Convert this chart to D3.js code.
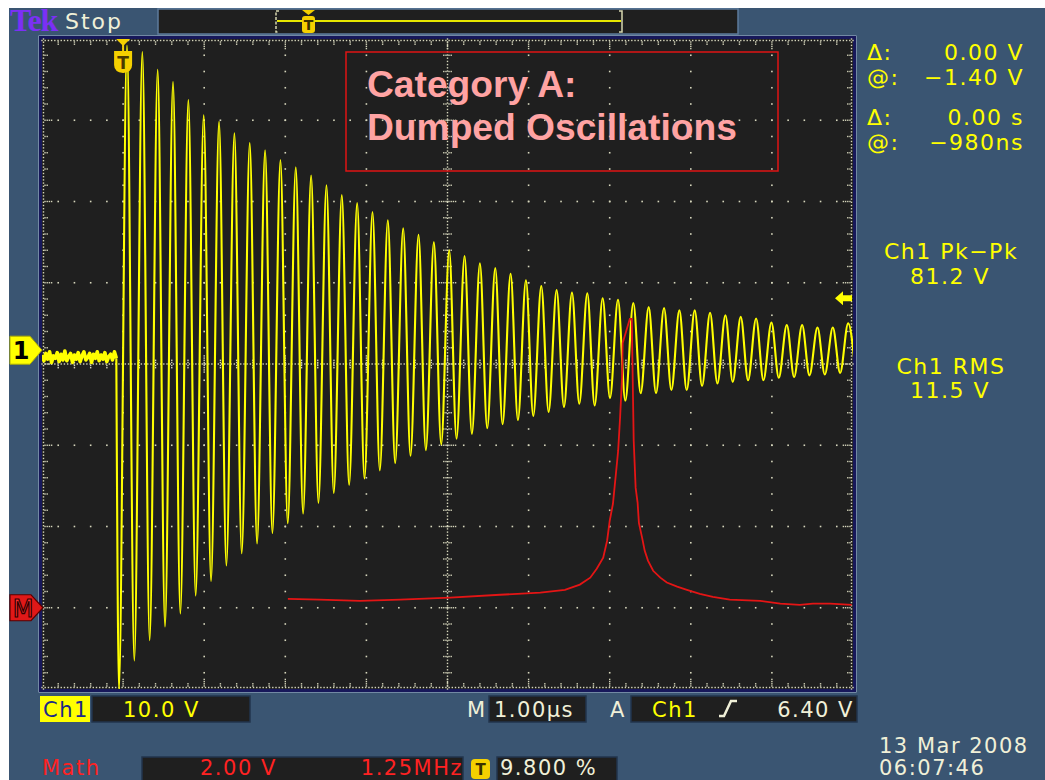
<!DOCTYPE html>
<html>
<head>
<meta charset="utf-8">
<script src="https://cdn.jsdelivr.net/npm/d3@7"></script>
<style>
  html, body { margin: 0; padding: 0; background: #ffffff; }
  svg { display: block; }
  text { font-family: "DejaVu Sans", sans-serif; }
</style>
</head>
<body>
<svg id="scope" width="1045" height="780"></svg>
<script>
// ---- Channel 1: damped ringing, one peak and one trough per cycle (volts) ----
const ch1PeakVolts = [37.5, 36.7, 34.5, 33.0, 30.8, 28.9, 28.1, 26.7, 25.5, 24.6,
  23.4, 22.5, 21.5, 20.3, 19.1, 18.1, 17.0, 16.0, 15.0, 14.2,
  13.3, 12.3, 11.6, 10.7, 10.1, 9.4, 8.6, 7.9, 7.4, 7.1,
  7.0, 6.4, 6.2, 5.8, 5.3, 5.2, 4.9, 4.9, 4.6, 4.3,
  4.1, 3.9, 3.4, 3.1, 3.1, 2.8, 2.8, 3.3];
const ch1TroughVolts = [-41.8, -38.2, -35.7, -34.0, -32.4, -30.2, -28.4, -26.5, -25.0, -23.8,
  -22.5, -21.3, -20.1, -18.8, -17.6, -16.6, -15.8, -14.8, -13.9, -13.0,
  -12.3, -11.6, -10.9, -10.3, -9.6, -9.1, -8.6, -8.1, -7.6, -7.0,
  -6.6, -6.8, -5.9, -6.2, -5.3, -5.3, -4.9, -4.9, -4.4, -4.1,
  -3.9, -3.7, -3.7, -3.4, -3.3, -3.1, -3.0, -2.8, -2.7];
// ringing timing (µs)
const ringPeriodUs = 0.1892;
const firstTroughUs = -0.051;
const firstPeakUs = 0.048;
// baseline before the trigger (volts), sampled every preStepUs from preStartUs
const ch1PreTriggerVolts = [-0.6, -1.3, -0.4, -1.1, -0.2, -1.5, -0.7, -1.0, -0.3, -1.4,
  -0.5, -1.2, -0.1, -1.3, -0.8, -0.4, -1.5, -0.6, -1.1, -0.3,
  -1.4, -0.7, -0.2, -1.2, -0.9, -0.4, -1.5, -0.5, -1.0, -0.2,
  -1.3, -0.6, -1.1, -0.3, -1.4, -0.8, -0.5, -1.2, -0.2, -1.0];
const preStartUs = -1.0;
const preStepUs = 0.0235;

// ---- Math trace: spectrum (MHz, volts) ----
const mathFreqMHz = [3.79, 4.28, 4.90, 5.52, 6.29, 7.06, 7.68, 8.06, 8.29, 8.45,
  8.55, 8.65, 8.71, 8.75, 8.80, 8.85, 8.88, 8.91, 8.94, 8.95,
  9.02, 9.06, 9.09, 9.12, 9.15, 9.18, 9.20, 9.25, 9.29, 9.34,
  9.42, 9.53, 9.63, 9.79, 9.94, 10.14, 10.34, 10.60, 11.07, 11.38,
  11.68, 11.88, 12.15, 12.48];
const mathVolts = [0.22, 0.20, 0.17, 0.20, 0.25, 0.32, 0.37, 0.44, 0.57, 0.74,
  0.96, 1.23, 1.65, 2.14, 2.56, 3.37, 3.86, 4.68, 5.66, 6.52,
  6.89, 7.11, 7.11, 4.11, 2.95, 2.59, 2.09, 1.72, 1.40, 1.16,
  0.91, 0.74, 0.62, 0.52, 0.44, 0.34, 0.27, 0.20, 0.17, 0.10,
  0.07, 0.10, 0.10, 0.07];

// ---- Settings / readouts ----
const ch1VoltsPerDiv = 10, ch1OffsetDiv = 0.17;
const mathVoltsPerDiv = 2, mathOffsetDiv = -3;
const timePerDivUs = 1, timeStartUs = -1;
const mathMHzPerDiv = 1.25;
const triggerLevelV = 6.40;
const cursorReadouts = [["Δ:", "0.00 V"], ["@:", "\u22121.40 V"], ["Δ:", "0.00 s"], ["@:", "\u2212980ns"]];
const measureReadouts = [["Ch1 Pk\u2212Pk", "81.2 V"], ["Ch1 RMS", "11.5 V"]];

const svg = d3.select("#scope");
const W = 1045, H = 780;
const plot = { left: 42, right: 853, top: 39, bottom: 689 };

const xDiv = d3.scaleLinear().domain([0, 10]).range([plot.left, plot.right]);
const yDiv = d3.scaleLinear().domain([-4, 4]).range([plot.bottom, plot.top]);
const xTime = d3.scaleLinear().domain([timeStartUs, timeStartUs + 10 * timePerDivUs]).range([plot.left, plot.right]);
const xFreq = d3.scaleLinear().domain([0, 10 * mathMHzPerDiv]).range([plot.left, plot.right]);
const ch1Y = v => yDiv(ch1OffsetDiv + v / ch1VoltsPerDiv);
const mathY = v => yDiv(mathOffsetDiv + v / mathVoltsPerDiv);

const BLUE = "#3a5572", DARK = "#1f1f1f", CREAM = "#f0f0d8", YEL = "#ffff00", RED = "#ff2222", DOT = "#d6d6bc";

// page & panel background
svg.append("rect").attr("width", W).attr("height", H).attr("fill", "#ffffff");
svg.append("rect").attr("x", 9).attr("y", 8).attr("width", W - 9).attr("height", H - 8).attr("fill", BLUE);

// ---- header ----
svg.append("text").attr("x", 10).attr("y", 31).attr("fill", "#7b30f5")
  .style("font-family", "'Liberation Serif', serif").style("font-weight", "bold")
  .style("font-size", "32px").style("letter-spacing", "-1px").text("Tek");
svg.append("text").attr("x", 65).attr("y", 29).attr("fill", CREAM)
  .style("font-size", "22px").style("letter-spacing", "2px").text("Stop");

const hdr = svg.append("g");
hdr.append("rect").attr("x", 158).attr("y", 9).attr("width", 580).attr("height", 25)
  .attr("fill", DARK).attr("stroke", "#5d7b9c").attr("stroke-width", 1.5);
hdr.append("line").attr("x1", 277).attr("x2", 621).attr("y1", 21).attr("y2", 21)
  .attr("stroke", "#e8e800").attr("stroke-width", 2);
hdr.append("path").attr("d", "M279,11 h-3 v21 h3").attr("fill", "none").attr("stroke", "#d8d8b0").attr("stroke-width", 1.5).attr("stroke-dasharray", "3,1.5");
hdr.append("path").attr("d", "M619,11 h3 v21 h-3").attr("fill", "none").attr("stroke", "#d8d8b0").attr("stroke-width", 1.5);
hdr.append("path").attr("d", "M302,10 L315,10 L308.5,15 Z").attr("fill", "#f5d000");
hdr.append("rect").attr("x", 302).attr("y", 16).attr("width", 13).attr("height", 17).attr("rx", 3).attr("fill", "#f5d000");
hdr.append("text").attr("x", 308.5).attr("y", 30).attr("text-anchor", "middle").attr("fill", "#3a3000")
  .style("font-size", "14px").style("font-weight", "bold").text("T");

// ---- graticule frame ----
svg.append("rect").attr("x", plot.left - 3).attr("y", plot.top - 3)
  .attr("width", plot.right - plot.left + 6).attr("height", plot.bottom - plot.top + 6)
  .attr("fill", "none").attr("stroke", "#a9bdd6").attr("stroke-width", 1);
svg.append("rect").attr("x", plot.left - 1.5).attr("y", plot.top - 1.5)
  .attr("width", plot.right - plot.left + 3).attr("height", plot.bottom - plot.top + 3)
  .attr("fill", DARK).attr("stroke", "#17185a").attr("stroke-width", 3);

const grid = svg.append("g");
const dot = (x, y, s = 1.6) => grid.append("rect").attr("x", x - s / 2).attr("y", y - s / 2)
  .attr("width", s).attr("height", s).attr("fill", DOT);

// dotted major grid lines (every 1/5 division)
for (let k = -3; k <= 3; k++) {
  if (k === 0) continue;
  for (let m = 1; m < 50; m++) dot(xDiv(m * 0.2), yDiv(k));
}
for (let k = 1; k <= 9; k++) {
  if (k === 5) continue;
  for (let m = 1; m < 40; m++) dot(xDiv(k), yDiv(-4 + m * 0.2));
}
// centre cross-hair and edge rulers: fine dotted line with tick marks
function ruler(horizontal, pos, dir, both) {
  const len = horizontal ? plot.right - plot.left : plot.bottom - plot.top;
  const n = Math.floor(len / 3.2);
  for (let i = 0; i <= n; i++) {
    const t = i * len / n;
    if (horizontal) dot(plot.left + t, pos, 1.4); else dot(pos, plot.top + t, 1.4);
  }
  const count = horizontal ? 50 : 40;
  for (let m = 1; m < count; m++) {
    const major = m % 5 === 0;
    const L = major ? 9 : 4;
    const c = horizontal ? xDiv(m * 0.2) : yDiv(-4 + m * 0.2);
    for (let d = 1.5; d <= L; d += 2.2) {
      if (horizontal) {
        if (both || dir > 0) dot(c, pos + d, 1.4);
        if (both || dir < 0) dot(c, pos - d, 1.4);
      } else {
        if (both || dir > 0) dot(pos + d, c, 1.4);
        if (both || dir < 0) dot(pos - d, c, 1.4);
      }
    }
  }
}
ruler(true, yDiv(0), 0, true);
ruler(false, xDiv(5), 0, true);
ruler(true, plot.top + 1.5, 1, false);
ruler(true, plot.bottom - 1.5, -1, false);
ruler(false, plot.left + 1.5, 1, false);
ruler(false, plot.right - 1.5, -1, false);

// ---- traces ----
svg.append("clipPath").attr("id", "plotClip").append("rect")
  .attr("x", plot.left).attr("y", plot.top)
  .attr("width", plot.right - plot.left).attr("height", plot.bottom - plot.top);
const traces = svg.append("g").attr("clip-path", "url(#plotClip)");

const prePoints = ch1PreTriggerVolts.map((v, k) => [preStartUs + k * preStepUs, v]);
const ringPoints = [];
ch1TroughVolts.forEach((tv, j) => {
  ringPoints.push([firstTroughUs + j * ringPeriodUs, tv]);
  if (j < ch1PeakVolts.length) ringPoints.push([firstPeakUs + j * ringPeriodUs, ch1PeakVolts[j]]);
});
const ch1Line = d3.line().x(d => xTime(d[0])).y(d => ch1Y(d[1])).curve(d3.curveMonotoneX);
// pre-trigger noise band (drawn heavier, as on the display)
traces.append("path").datum(prePoints).attr("d", ch1Line.curve(d3.curveLinear))
  .attr("fill", "none").attr("stroke", YEL).attr("stroke-width", 3.6).attr("stroke-linejoin", "round");
ch1Line.curve(d3.curveMonotoneX);
traces.append("path").datum(prePoints.slice(-1).concat(ringPoints)).attr("d", ch1Line)
  .attr("fill", "none").attr("stroke", YEL).attr("stroke-width", 2.1).attr("stroke-linejoin", "round");

const mathLine = d3.line().x((d, i) => xFreq(mathFreqMHz[i])).y(d => mathY(d));
traces.append("path").datum(mathVolts).attr("d", mathLine)
  .attr("fill", "none").attr("stroke", "#e41515").attr("stroke-width", 1.8);

// ---- annotation box ----
svg.append("rect").attr("x", 346).attr("y", 52).attr("width", 432).attr("height", 119)
  .attr("fill", "none").attr("stroke", "#e01414").attr("stroke-width", 1.5);
const titleStyle = s => s.attr("class", "title").attr("fill", "#ffa3a3")
  .style("font-family", "'Liberation Sans', Arial, sans-serif")
  .style("font-weight", "bold").style("font-size", "35px");
svg.append("text").attr("x", 367).attr("y", 97).call(titleStyle).text("Category A:");
const t2 = svg.append("text").attr("x", 367).attr("y", 140).call(titleStyle).text("Dumped Oscillations");
const fs = 35 * 370 / t2.node().getComputedTextLength();
svg.selectAll("text.title").style("font-size", fs + "px");

// ---- markers ----
// trigger position
const tx = xTime(0);
svg.append("path").attr("d", `M${tx - 7},${plot.top} L${tx + 7},${plot.top} L${tx},${plot.top + 7} Z`).attr("fill", "#f5d000");
svg.append("rect").attr("x", tx - 1).attr("y", plot.top + 5).attr("width", 2).attr("height", 8).attr("fill", "#f5d000");
svg.append("path").attr("d", `M${tx - 9},${plot.top + 12} h18 v14 q0,7 -9,8 q-9,-1 -9,-8 Z`).attr("fill", "#f5d000");
svg.append("text").attr("x", tx).attr("y", plot.top + 30).attr("text-anchor", "middle").attr("fill", "#4a3a00")
  .style("font-size", "17px").style("font-weight", "bold").text("T");
// channel 1 ground
const gy = ch1Y(0);
svg.append("path").attr("d", `M10,${gy - 14} L30,${gy - 14} L42,${gy} L30,${gy + 14} L10,${gy + 14} Z`)
  .attr("fill", YEL).attr("stroke", "#b0b000").attr("stroke-width", 1);
svg.append("text").attr("x", 21).attr("y", gy + 9).attr("text-anchor", "middle").attr("fill", "#000")
  .style("font-size", "24px").style("font-weight", "bold").text("1");
// math reference
const my = mathY(0);
svg.append("path").attr("d", `M10,${my - 13} L31,${my - 13} L43,${my} L31,${my + 13} L10,${my + 13} Z`)
  .attr("fill", "#e01818").attr("stroke", "#5a0000").attr("stroke-width", 1.2);
svg.append("text").attr("x", 23).attr("y", my + 9).attr("text-anchor", "middle").attr("fill", "#ff3030")
  .attr("stroke", "#300000").attr("stroke-width", 1.2)
  .style("font-size", "24px").text("M");
// trigger level
const ly = ch1Y(triggerLevelV);
svg.append("path").attr("d", `M835,${ly} L843,${ly - 7} L843,${ly - 3} L852,${ly - 3} L852,${ly + 3} L843,${ly + 3} L843,${ly + 7} Z`)
  .attr("fill", YEL);

// ---- right-hand readouts ----
const side = svg.append("g").attr("fill", YEL).style("font-size", "22px").style("letter-spacing", "1.5px");
const cursorY = [60, 85, 125, 150];
cursorReadouts.forEach((r, i) => {
  side.append("text").attr("x", 867).attr("y", cursorY[i]).text(r[0]);
  side.append("text").attr("x", 1024).attr("y", cursorY[i]).attr("text-anchor", "end").text(r[1]);
});
const measY = [[259, 284], [374, 398]];
measureReadouts.forEach((r, i) => {
  side.append("text").attr("x", 951).attr("y", measY[i][0]).attr("text-anchor", "middle").text(r[0]);
  side.append("text").attr("x", 950).attr("y", measY[i][1]).attr("text-anchor", "middle").text(r[1]);
});

// ---- status bar ----
const sb = svg.append("g").style("font-size", "21px").style("letter-spacing", "1.5px");
const box = (x, y, w, h) => sb.append("rect").attr("x", x).attr("y", y).attr("width", w).attr("height", h)
  .attr("fill", DARK).attr("stroke", "#22354d").attr("stroke-width", 1.5);
sb.append("rect").attr("x", 40).attr("y", 696).attr("width", 50).attr("height", 26).attr("fill", YEL);
sb.append("text").attr("x", 43).attr("y", 717).attr("fill", "#1c2a88").text("Ch1");
box(92, 696, 158, 26);
sb.append("text").attr("x", 123).attr("y", 717).attr("fill", YEL).text(`${ch1VoltsPerDiv.toFixed(1)} V`);
sb.append("text").attr("x", 467).attr("y", 717).attr("fill", CREAM).text("M");
box(489, 696, 97, 26);
sb.append("text").attr("x", 494).attr("y", 717).attr("fill", CREAM).text(`${timePerDivUs.toFixed(2)}µs`);
sb.append("text").attr("x", 610).attr("y", 717).attr("fill", CREAM).text("A");
box(631, 696, 226, 26);
sb.append("text").attr("x", 652).attr("y", 717).attr("fill", YEL).text("Ch1");
sb.append("path").attr("d", "M719,716 h5 l7,-15 h6").attr("fill", "none").attr("stroke", CREAM).attr("stroke-width", 2.5);
sb.append("text").attr("x", 854).attr("y", 717).attr("text-anchor", "end").attr("fill", CREAM).text(`${triggerLevelV.toFixed(2)} V`);

const row2 = 775;
sb.append("text").attr("x", 42).attr("y", row2).attr("fill", RED).text("Math");
box(142, 757, 321, 30);
sb.append("text").attr("x", 200).attr("y", row2).attr("fill", RED).text(`${mathVoltsPerDiv.toFixed(2)} V`);
sb.append("text").attr("x", 463).attr("y", row2).attr("text-anchor", "end").attr("fill", RED).text(`${mathMHzPerDiv.toFixed(2)}MHz`);
sb.append("rect").attr("x", 471).attr("y", 759).attr("width", 19).attr("height", 20).attr("rx", 4).attr("fill", "#f5d000");
sb.append("text").attr("x", 480.5).attr("y", 775).attr("text-anchor", "middle").attr("fill", "#3a3000")
  .style("font-size", "15px").style("font-weight", "bold").style("letter-spacing", "0px").text("T");
box(497, 757, 120, 30);
sb.append("text").attr("x", 500).attr("y", row2).attr("fill", CREAM).text("9.800 %");

sb.append("text").attr("x", 879).attr("y", 753).attr("fill", CREAM).text("13 Mar  2008");
sb.append("text").attr("x", 879).attr("y", row2).attr("fill", CREAM).text("06:07:46");
</script>
</body>
</html>
